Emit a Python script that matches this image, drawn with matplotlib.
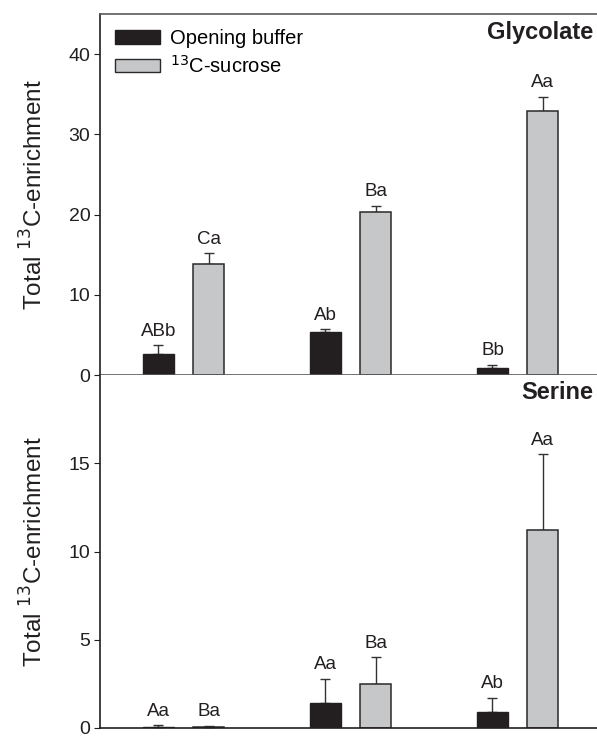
import numpy as np
import matplotlib.pyplot as plt
from matplotlib.patches import Patch

plt.rcParams['font.family'] = ['Liberation Sans', 'DejaVu Sans']

# 数据
groups = [0, 1, 2]
gly_buffer = [2.6, 5.35, 0.9]
gly_buffer_err = [1.1, 0.35, 0.4]
gly_sucrose = [13.8, 20.3, 32.9]
gly_sucrose_err = [1.4, 0.8, 1.8]
gly_buffer_lab = ['ABb', 'Ab', 'Bb']
gly_sucrose_lab = ['Ca', 'Ba', 'Aa']

ser_buffer = [0.08, 1.42, 0.92]
ser_buffer_err = [0.07, 1.38, 0.78]
ser_sucrose = [0.07, 2.52, 11.2]
ser_sucrose_err = [0.05, 1.48, 4.3]
ser_buffer_lab = ['Aa', 'Aa', 'Ab']
ser_sucrose_lab = ['Ba', 'Ba', 'Aa']

black = '#231f20'
grey = '#c6c7c9'
off = 0.15
w = 0.186

fig = plt.figure(figsize=(5.97, 7.40), dpi=100)
ax1 = fig.add_axes([100 / 597, (740 - 375) / 740, 501 / 597, 361 / 740])
ax2 = fig.add_axes([100 / 597, (740 - 728) / 740, 501 / 597, 353 / 740])


def draw(ax, b, be, s, se, bl, sl, title, ymax, yticks):
    x = np.array(groups)
    ax.bar(x - off, b, w, color=black, edgecolor=black, linewidth=1, zorder=2)
    ax.bar(x + off, s, w, color=grey, edgecolor='#2a2a2a', linewidth=1.1, zorder=2)
    ax.errorbar(x - off, b, yerr=[np.zeros(3), be], fmt='none', ecolor='#333333',
                elinewidth=1, capsize=3.6, capthick=1, zorder=1)
    ax.errorbar(x + off, s, yerr=[np.zeros(3), se], fmt='none', ecolor='#333333',
                elinewidth=1, capsize=3.6, capthick=1, zorder=1)
    for xi, v, e, t in zip(x - off, b, be, bl):
        ax.annotate(t, (xi, v + e), xytext=(0, 4), textcoords='offset points',
                    ha='center', va='bottom', fontsize=13.5, color='#231f20')
    for xi, v, e, t in zip(x + off, s, se, sl):
        ax.annotate(t, (xi, v + e), xytext=(0, 4), textcoords='offset points',
                    ha='center', va='bottom', fontsize=13.5, color='#231f20')
    ax.set_xlim(-0.5, 2.5)
    ax.set_ylim(0, ymax)
    ax.set_yticks(yticks)
    ax.set_xticks([])
    ax.tick_params(axis='y', direction='out', length=4, labelsize=14, colors='#231f20', pad=3)
    ax.set_ylabel('Total $^{13}$C-enrichment', fontsize=17.5, color='#231f20')
    ax.yaxis.set_label_coords(-0.105, 0.5)
    ax.text(0.985, 0.95, title, transform=ax.transAxes, ha='right', va='center',
            fontsize=17, fontweight='bold', color='#231f20')
    for sp in ax.spines.values():
        sp.set_color('#5a5a5a')
        sp.set_linewidth(1.2)
        sp.set_zorder(3)
    ax.spines['left'].set_color('#231f20')
    ax.spines['right'].set_visible(False)


draw(ax1, gly_buffer, gly_buffer_err, gly_sucrose, gly_sucrose_err,
     gly_buffer_lab, gly_sucrose_lab, 'Glycolate', 45, [0, 10, 20, 30, 40])
draw(ax2, ser_buffer, ser_buffer_err, ser_sucrose, ser_sucrose_err,
     ser_buffer_lab, ser_sucrose_lab, 'Serine', 20, [0, 5, 10, 15])
ax2.spines['top'].set_visible(False)
ax2.spines['bottom'].set_color('#231f20')

handles = [Patch(facecolor=black, edgecolor=black, label='Opening buffer'),
           Patch(facecolor=grey, edgecolor='#2a2a2a', label='$^{13}$C-sucrose')]
ax1.legend(handles=handles, loc='upper left', bbox_to_anchor=(0.0, 1.0), frameon=False,
           fontsize=14.5, handlelength=2.25, handleheight=0.62, handletextpad=0.5,
           labelspacing=0.35, borderaxespad=0.4, borderpad=0.35)

fig.savefig('out.png', dpi=100)
